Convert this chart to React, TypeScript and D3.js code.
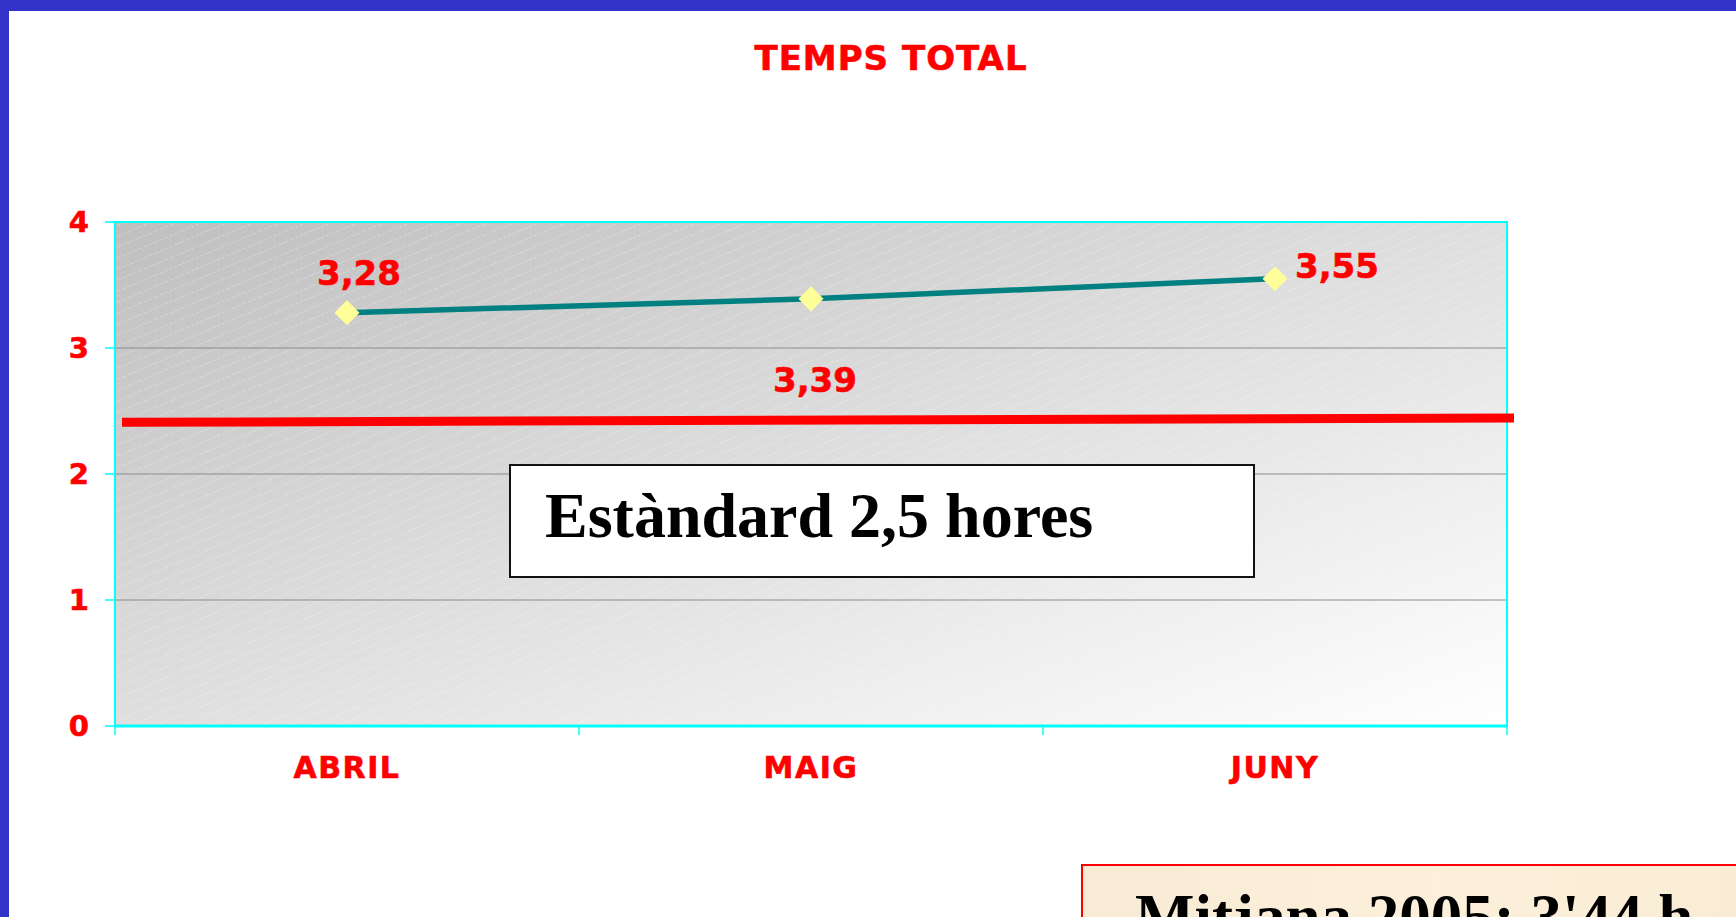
import React, { useEffect } from 'react';
import * as d3 from 'd3';

// values
const months = ['ABRIL', 'MAIG', 'JUNY'];
const hours = [3.28, 3.39, 3.55];
const hourLabels = ['3,28', '3,39', '3,55'];
const yTicks = [0, 1, 2, 3, 4];
const gridTicks = [1, 2, 3];
// the red "standard" line as drawn (slightly slanted in the original)
const standardEnds = [2.41, 2.445];

const W = 1736;
const H = 917;
const plot = { left: 115, right: 1507, top: 222, bottom: 726 };

const labelFont = "'DejaVu Sans', Verdana, sans-serif";
const serif = "'Liberation Serif', 'Times New Roman', serif";

const App = () => {
  useEffect(() => {
    document.body.style.margin = '0';
    document.body.style.overflow = 'hidden';
  }, []);

  const x = d3.scaleBand().domain(months).range([plot.left, plot.right]);
  const y = d3.scaleLinear().domain([0, 4]).range([plot.bottom, plot.top]);

  const line = d3
    .line<number>()
    .x((d, i) => x(months[i])! + x.bandwidth() / 2)
    .y((d) => y(d));

  const pts = hours.map((h, i) => ({ cx: x(months[i])! + x.bandwidth() / 2, cy: y(h) }));
  const diamond = d3.symbol().type(d3.symbolDiamond2).size(400)();

  // label offsets, like the hand placed labels in the original
  const labelPos = [
    { dx: 12, dy: -28, anchor: 'middle' },
    { dx: 4, dy: 93, anchor: 'middle' },
    { dx: 20, dy: -1, anchor: 'start' },
  ];

  const bandEdges = [...months.map((m) => x(m)!), plot.right];

  const redText = { fill: '#ff0000', stroke: '#ff0000', strokeWidth: 0.6, fontFamily: labelFont, fontWeight: 'bold' as const };

  return (
    <svg width={W} height={H} style={{ position: 'absolute', left: 0, top: 0, background: '#fff' }}>
      <defs>
        <linearGradient id="bg" x1="0" y1="0" x2="1" y2="1">
          <stop offset="0%" stopColor="#bfbfbf" />
          <stop offset="55%" stopColor="#e2e2e2" />
          <stop offset="100%" stopColor="#ffffff" />
        </linearGradient>
        <pattern id="hatch" width="26" height="11" patternUnits="userSpaceOnUse">
          <line x1="0" y1="11" x2="26" y2="0" stroke="#ffffff" strokeWidth={0.8} strokeDasharray="3 2" opacity={0.4} />
        </pattern>
        <linearGradient id="beige" x1="0" y1="0" x2="1" y2="0">
          <stop offset="0%" stopColor="#f8ebd5" />
          <stop offset="50%" stopColor="#fcf0db" />
          <stop offset="100%" stopColor="#f9ecd4" />
        </linearGradient>
      </defs>

      {/* frame */}
      <rect x={0} y={0} width={W} height={11} fill="#3333cc" />
      <rect x={0} y={0} width={9} height={H} fill="#3333cc" />

      <text x={891} y={70} textAnchor="middle" {...redText} fontSize={34} letterSpacing={1}>
        TEMPS TOTAL
      </text>

      {/* plot area */}
      <rect x={plot.left} y={plot.top} width={plot.right - plot.left} height={plot.bottom - plot.top} fill="url(#bg)" />
      <rect x={plot.left} y={plot.top} width={plot.right - plot.left} height={plot.bottom - plot.top} fill="url(#hatch)" />

      {gridTicks.map((t) => (
        <line key={t} x1={plot.left} x2={plot.right} y1={y(t)} y2={y(t)} stroke="#8c8c8c" strokeWidth={1.2} />
      ))}

      <rect
        x={plot.left}
        y={plot.top}
        width={plot.right - plot.left}
        height={plot.bottom - plot.top}
        fill="none"
        stroke="#00ffff"
        strokeWidth={2}
      />
      <line x1={plot.left} x2={plot.right} y1={plot.bottom} y2={plot.bottom} stroke="#00ffff" strokeWidth={3} />

      {/* y axis */}
      {yTicks.map((t) => (
        <g key={t}>
          <line x1={plot.left - 10} x2={plot.left} y1={y(t)} y2={y(t)} stroke="#00ffff" strokeWidth={1.5} />
          <text x={89} y={y(t)} dy="0.36em" textAnchor="end" {...redText} fontSize={29}>
            {t}
          </text>
        </g>
      ))}

      {/* x axis */}
      {bandEdges.map((e, i) => (
        <line key={i} x1={e} x2={e} y1={plot.bottom} y2={plot.bottom + 9} stroke="#00ffff" strokeWidth={1.5} />
      ))}
      {months.map((m) => (
        <text key={m} x={x(m)! + x.bandwidth() / 2} y={778} textAnchor="middle" {...redText} fontSize={30} letterSpacing={1.5}>
          {m}
        </text>
      ))}

      {/* series */}
      <path d={line(hours)!} fill="none" stroke="#008080" strokeWidth={5.5} />
      {pts.map((p, i) => (
        <path key={i} d={diamond!} transform={`translate(${p.cx},${p.cy})`} fill="#ffff99" />
      ))}
      {pts.map((p, i) => (
        <text
          key={i}
          x={p.cx + labelPos[i].dx}
          y={p.cy + labelPos[i].dy}
          textAnchor={labelPos[i].anchor}
          {...redText}
          fontSize={34}
        >
          {hourLabels[i]}
        </text>
      ))}

      {/* standard line */}
      <line
        x1={plot.left + 7}
        x2={plot.right + 7}
        y1={y(standardEnds[0])}
        y2={y(standardEnds[1])}
        stroke="#ff0000"
        strokeWidth={9}
      />

      <rect x={510} y={465} width={744} height={112} fill="#ffffff" stroke="#111" strokeWidth={2} />
      <text x={545} y={537} fontFamily={serif} fontWeight="bold" fontSize={64} fill="#000">
        Estàndard 2,5 hores
      </text>

      {/* average box, cut by the page edge as in the original */}
      <rect x={1082} y={865} width={700} height={120} fill="url(#beige)" stroke="#ff0000" strokeWidth={2} />
      <text x={1135} y={938} fontFamily={serif} fontWeight="bold" fontSize={63} fill="#000">
        Mitjana 2005: 3'44 h
      </text>
    </svg>
  );
};

export default App;
